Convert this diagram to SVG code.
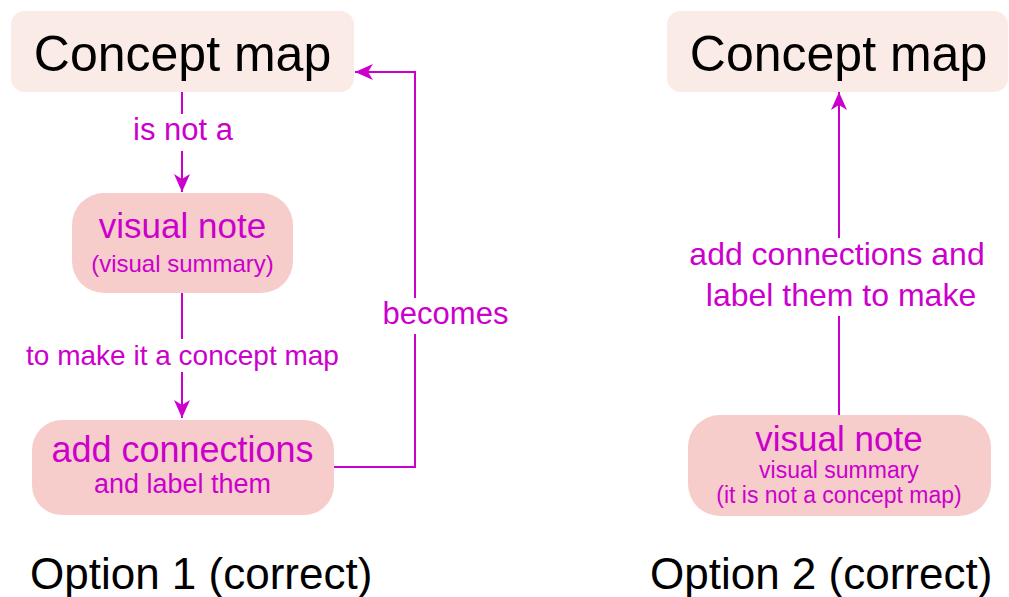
<svg xmlns="http://www.w3.org/2000/svg" width="1009" height="597" viewBox="0 0 1009 597">
  <style>
    text { font-family: "Liberation Sans", Arial, Helvetica, sans-serif; text-anchor: middle; }
    .concept { fill: #FAEBE6; }
    .note { fill: #F6CDCA; }
    .title { fill: #000000; font-size: 50px; }
    .pink { fill: #CC00CC; }
    .edge { fill: none; stroke: #CC00CC; stroke-width: 2; }
    .mask { fill: #FFFFFF; }
    .caption { fill: #000000; font-size: 44px; text-anchor: start; }
  </style>
  <defs>
    <marker id="arrow" markerUnits="userSpaceOnUse" viewBox="-19 -9 20 18" refX="0" refY="0" markerWidth="20" markerHeight="18" orient="auto">
      <path d="M0,0 L-18,-8 L-13,0 L-18,8 Z" fill="#CC00CC"/>
    </marker>
  </defs>

  <rect width="1009" height="597" fill="#FFFFFF"/>

  <!-- connectors -->
  <g id="connectors">
    <path class="edge" d="M182,92 V192" marker-end="url(#arrow)"/>
    <rect class="mask" x="126" y="114" width="114" height="37"/>
    <text class="pink" x="183" y="140" font-size="31">is not a</text>

    <path class="edge" d="M182,293 V418" marker-end="url(#arrow)"/>
    <rect class="mask" x="22" y="339" width="322" height="33"/>
    <text class="pink" x="182.5" y="365" font-size="28">to make it a concept map</text>

    <path class="edge" d="M334,467 H415 V72 H355" marker-end="url(#arrow)"/>
    <rect class="mask" x="378" y="298" width="136" height="36"/>
    <text class="pink" x="445.5" y="324" font-size="31">becomes</text>

    <path class="edge" d="M839,415 V92" marker-end="url(#arrow)"/>
    <rect class="mask" x="684" y="238" width="306" height="78"/>
    <text class="pink" x="837" y="265" font-size="32">add connections and</text>
    <text class="pink" x="841" y="306" font-size="32">label them to make</text>
  </g>

  <!-- option 1 -->
  <g id="concept-map-1">
    <rect class="concept" x="11" y="11" width="343" height="81" rx="14"/>
    <text class="title" x="182.5" y="71">Concept map</text>
  </g>
  <g id="visual-note-1">
    <rect class="note" x="72" y="193" width="221" height="100" rx="32"/>
    <text class="pink" x="182.5" y="238" font-size="35">visual note</text>
    <text class="pink" x="182.5" y="272" font-size="24">(visual summary)</text>
  </g>
  <g id="add-connections">
    <rect class="note" x="32" y="420" width="302" height="95" rx="30"/>
    <text class="pink" x="182.5" y="462" font-size="36">add connections</text>
    <text class="pink" x="182.5" y="493" font-size="27">and label them</text>
  </g>

  <!-- option 2 -->
  <g id="concept-map-2">
    <rect class="concept" x="667" y="11" width="341" height="81" rx="14"/>
    <text class="title" x="838.5" y="71">Concept map</text>
  </g>
  <g id="visual-note-2">
    <rect class="note" x="688" y="415" width="303" height="101" rx="32"/>
    <text class="pink" x="839" y="451" font-size="35">visual note</text>
    <text class="pink" x="839" y="478" font-size="23">visual summary</text>
    <text class="pink" x="839" y="503" font-size="23">(it is not a concept map)</text>
  </g>

  <!-- captions -->
  <g id="captions">
    <text class="caption" x="30" y="589">Option 1 (correct)</text>
    <text class="caption" x="650" y="589">Option 2 (correct)</text>
  </g>
</svg>
